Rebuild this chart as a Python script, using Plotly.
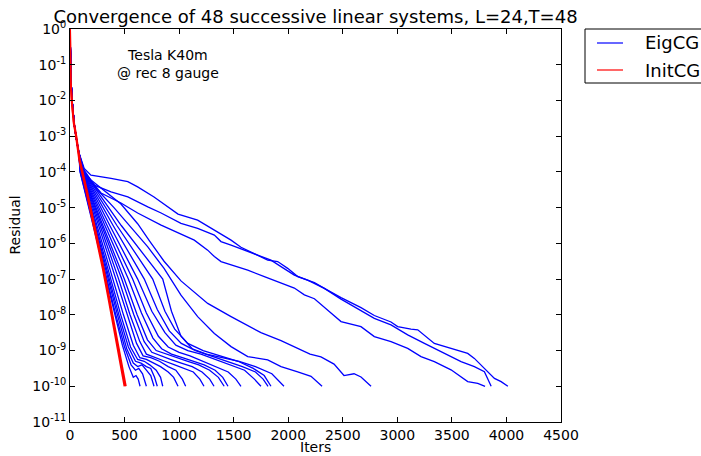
import plotly.graph_objects as go

# Convergence history as (iteration, log10 residual) knots.

# shared start of every EigCG run
eig_head = [(0, 0), (3, -0.7), (10, -1.5), (22, -2.1), (40, -2.7), (60, -3.1), (80, -3.45)]

# the three slowest EigCG runs
eig_slow = [
    [(130, -3.9), (192, -4.09), (376, -4.18), (530, -4.27), (620, -4.42), (770, -4.7), (990, -5.18),
     (1170, -5.35), (1323, -5.63), (1476, -5.91), (1567, -6.11), (1689, -6.28), (1812, -6.47),
     (1903, -6.51), (1995, -6.7), (2087, -6.93), (2240, -7.1), (2331, -7.26), (2484, -7.52),
     (2667, -7.8), (2789, -8.02), (2942, -8.2), (3003, -8.33), (3125, -8.4), (3187, -8.42),
     (3339, -8.8), (3492, -8.94), (3645, -9.08), (3706, -9.22), (3798, -9.5), (3890, -9.78),
     (3951, -9.87), (4013, -10.0)],
    [(130, -3.95), (222, -4.37), (376, -4.56), (530, -4.7), (713, -4.98), (835, -5.15), (1017, -5.44),
     (1170, -5.58), (1323, -5.77), (1384, -5.95), (1476, -6.05), (1598, -6.19), (1720, -6.33),
     (1842, -6.47), (1934, -6.65), (2056, -6.89), (2178, -7.03), (2331, -7.26), (2484, -7.56),
     (2667, -7.87), (2789, -8.1), (2942, -8.28), (3095, -8.56), (3248, -8.8), (3339, -8.94),
     (3492, -9.17), (3584, -9.31), (3706, -9.45), (3798, -9.59), (3860, -10.0)],
    [(125, -4.0), (284, -4.59), (467, -4.87), (620, -5.15), (835, -5.49), (1017, -5.74),
     (1139, -5.91), (1262, -6.19), (1323, -6.37), (1384, -6.51), (1506, -6.63), (1629, -6.75),
     (1781, -6.93), (1934, -7.12), (2056, -7.25), (2148, -7.44), (2240, -7.55), (2392, -7.95),
     (2484, -8.19), (2667, -8.33), (2789, -8.61), (2942, -8.75), (3095, -8.94), (3217, -9.17),
     (3339, -9.31), (3492, -9.54), (3645, -9.87), (3737, -9.92), (3804, -10.0)],
]

# the two middle EigCG runs
eig_mid = [
    [(130, -4.0), (192, -4.23), (467, -4.9), (620, -5.45), (733, -5.95), (862, -6.5), (1017, -7.05),
     (1262, -7.68), (1476, -8.05), (1750, -8.5), (1934, -8.72), (2087, -8.95), (2200, -9.1),
     (2300, -9.18), (2420, -9.38), (2511, -9.7), (2603, -9.65), (2667, -9.74), (2759, -10.0)],
    [(125, -4.05), (250, -4.5), (403, -5.0), (559, -5.55), (713, -6.1), (862, -6.7), (1017, -7.45),
     (1170, -8.05), (1323, -8.52), (1476, -8.89), (1629, -9.17), (1812, -9.26), (1934, -9.45),
     (2087, -9.6), (2209, -9.72), (2310, -10.0)],
]

# the fast EigCG runs that bunch up next to InitCG
eig_fast = [
    [(92, -4.0), (210, -5.5), (330, -7.0), (410, -8.0), (480, -8.85), (540, -9.45), (580, -9.75),
     (605, -9.7), (625, -9.8), (642, -10.0)],
    [(94, -4.0), (215, -5.5), (340, -7.0), (420, -8.0), (500, -8.9), (560, -9.4), (600, -9.55),
     (630, -9.5), (665, -9.65), (700, -10.0)],
    [(96, -4.0), (222, -5.5), (351, -7.0), (435, -8.0), (520, -8.95), (580, -9.35), (620, -9.45),
     (660, -9.4), (700, -9.55), (740, -9.7), (770, -10.0)],
    [(98, -4.0), (228, -5.5), (362, -7.0), (448, -8.0), (535, -8.9), (600, -9.3), (650, -9.35),
     (700, -9.45), (740, -9.5), (775, -9.75), (800, -10.0)],
    [(100, -4.0), (236, -5.5), (376, -7.0), (465, -8.0), (555, -8.9), (620, -9.25), (680, -9.3),
     (730, -9.4), (790, -9.55), (830, -9.75), (850, -10.0)],
    [(102, -4.0), (248, -5.5), (397, -7.0), (490, -8.0), (580, -8.85), (640, -9.2), (700, -9.25),
     (760, -9.35), (830, -9.45), (900, -9.6), (950, -9.75), (990, -10.0)],
    [(104, -4.0), (262, -5.5), (421, -7.0), (520, -8.0), (610, -8.8), (670, -9.15), (740, -9.2),
     (820, -9.3), (900, -9.45), (970, -9.55), (1030, -9.8), (1060, -10.0)],
    [(106, -4.0), (276, -5.5), (446, -7.0), (550, -8.0), (640, -8.75), (700, -9.1), (780, -9.2),
     (870, -9.3), (960, -9.4), (1050, -9.5), (1130, -9.6), (1190, -9.8), (1228, -10.0)],
    [(108, -4.0), (290, -5.5), (474, -7.0), (585, -8.0), (680, -8.75), (750, -9.05), (830, -9.15),
     (920, -9.25), (1020, -9.35), (1120, -9.45), (1210, -9.6), (1280, -9.8), (1320, -10.0)],
    [(110, -4.0), (302, -5.5), (498, -7.0), (615, -8.0), (710, -8.7), (790, -9.0), (880, -9.1),
     (980, -9.2), (1080, -9.3), (1180, -9.4), (1280, -9.55), (1360, -9.75), (1413, -10.0)],
    [(112, -4.0), (320, -5.5), (535, -7.0), (655, -7.95), (760, -8.65), (840, -8.95), (930, -9.1),
     (1030, -9.2), (1130, -9.3), (1230, -9.4), (1330, -9.55), (1400, -9.75), (1448, -10.0)],
    [(114, -4.0), (340, -5.5), (574, -7.0), (700, -7.95), (810, -8.6), (900, -8.9), (1000, -9.05),
     (1100, -9.15), (1220, -9.3), (1340, -9.45), (1450, -9.6), (1520, -9.8), (1567, -10.0)],
    [(116, -4.0), (365, -5.5), (620, -7.0), (750, -7.9), (870, -8.5), (970, -8.85), (1080, -9.0),
     (1200, -9.1), (1340, -9.25), (1480, -9.4), (1600, -9.55), (1690, -9.8), (1750, -10.0)],
    [(119, -4.0), (395, -5.5), (681, -7.0), (800, -7.85), (910, -8.45), (1020, -8.8), (1150, -9.0),
     (1300, -9.15), (1440, -9.3), (1580, -9.45), (1700, -9.6), (1770, -9.8), (1815, -10.0)],
    [(122, -4.0), (430, -5.5), (758, -7.0), (870, -7.9), (960, -8.4), (1080, -8.8), (1220, -9.0),
     (1380, -9.15), (1540, -9.3), (1680, -9.5), (1780, -9.7), (1842, -10.0)],
    [(125, -4.0), (470, -5.5), (850, -7.0), (930, -7.9), (1017, -8.6), (1120, -8.95), (1250, -9.1),
     (1400, -9.2), (1550, -9.3), (1700, -9.45), (1850, -9.65), (1961, -10.0)],
]

# InitCG runs (all nearly on top of each other)
init_runs = [
    [(0, 0), (2, -0.7), (6, -1.5), (18, -2.1), (35, -2.65), (55, -3.0), (85, -3.67), (150, -4.55),
     (200, -5.25), (250, -5.95), (300, -6.7), (350, -7.5), (400, -8.35), (450, -9.1), (496, -9.9),
     (500, -10.0)],
    [(0, 0), (2, -0.65), (6, -1.45), (18, -2.05), (35, -2.6), (55, -2.95), (90, -3.67), (157, -4.55),
     (208, -5.25), (258, -5.95), (308, -6.7), (358, -7.5), (408, -8.35), (458, -9.1), (506, -9.9),
     (511, -10.0)],
]

y_exponents = list(range(0, -12, -1))

legend_names = ["EigCG", "InitCG"]
title_txt = "Convergence of 48 successive linear systems, L=24,T=48"
note_txt = "Tesla K40m<br>@ rec 8 gauge"

BLUE = "#0000ff"
RED = "#ff0000"
FONT = "DejaVu Sans"

# plot area in pixels: x 70..561, y 29..422
L, R, T, B = 70, 561, 29, 422


def px_x(p):
    return (p - L) / (R - L)


def px_y(p):
    return (B - p) / (B - T)


fig = go.Figure()

for run in eig_slow + eig_mid + eig_fast:
    pts = eig_head + run
    fig.add_trace(go.Scatter(
        x=[p[0] for p in pts], y=[10 ** p[1] for p in pts],
        mode="lines", line=dict(color=BLUE, width=1.3),
        showlegend=False, hoverinfo="skip"))

for run in init_runs:
    fig.add_trace(go.Scatter(
        x=[p[0] for p in run], y=[10 ** p[1] for p in run],
        mode="lines", line=dict(color=RED, width=2),
        showlegend=False, hoverinfo="skip"))

fig.update_layout(
    width=701, height=456,
    margin=dict(l=L, r=701 - R, t=T, b=456 - B),
    paper_bgcolor="white", plot_bgcolor="white",
    font=dict(family=FONT, size=14, color="black"),
    title=dict(text=title_txt, x=(L + R) / 2 / 701, xanchor="center",
               y=1 - 17 / 456, yanchor="middle", yref="container",
               font=dict(size=18)),
    showlegend=False,
)

fig.update_xaxes(
    range=[0, 4500], dtick=500, tick0=0,
    showgrid=False, zeroline=False,
    showline=True, linecolor="black", linewidth=1, mirror="ticks",
    ticks="inside", ticklen=5, tickcolor="black",
    tickfont=dict(size=14),
)
fig.update_yaxes(
    type="log", range=[-11, 0],
    tickvals=[10.0 ** e for e in y_exponents],
    ticktext=["10<sup>%d</sup>" % e for e in y_exponents],
    showgrid=False, zeroline=False,
    showline=True, linecolor="black", linewidth=1, mirror="ticks",
    ticks="inside", ticklen=5, tickcolor="black",
    tickfont=dict(size=14),
)

# axis titles and the note
fig.add_annotation(text="Iters", xref="paper", yref="paper", x=0.5, y=px_y(447),
                   xanchor="center", yanchor="middle", showarrow=False, font=dict(size=14))
fig.add_annotation(text="Residual", xref="paper", yref="paper", x=px_x(14), y=0.5,
                   xanchor="center", yanchor="middle", textangle=-90, showarrow=False,
                   font=dict(size=14))
fig.add_annotation(text=note_txt, xref="paper", yref="paper", x=px_x(168), y=px_y(64),
                   xanchor="center", yanchor="middle", showarrow=False, font=dict(size=14))

# legend box outside the axes, like the original (right edge runs off the page)
fig.add_shape(type="rect", xref="paper", yref="paper",
              x0=px_x(585), x1=px_x(712), y0=px_y(83), y1=px_y(29),
              line=dict(color="black", width=1), fillcolor="white", layer="above")
for name, col, ypx in zip(legend_names, [BLUE, RED], [43, 70]):
    fig.add_shape(type="line", xref="paper", yref="paper",
                  x0=px_x(597), x1=px_x(623), y0=px_y(ypx), y1=px_y(ypx),
                  line=dict(color=col, width=1.2), layer="above")
    fig.add_annotation(text=name, xref="paper", yref="paper", x=px_x(643), y=px_y(ypx),
                       xanchor="left", yanchor="middle", showarrow=False,
                       font=dict(size=18))

fig.write_html("out.html", config={"displayModeBar": False},
               post_script="document.body.style.margin='0px';")
